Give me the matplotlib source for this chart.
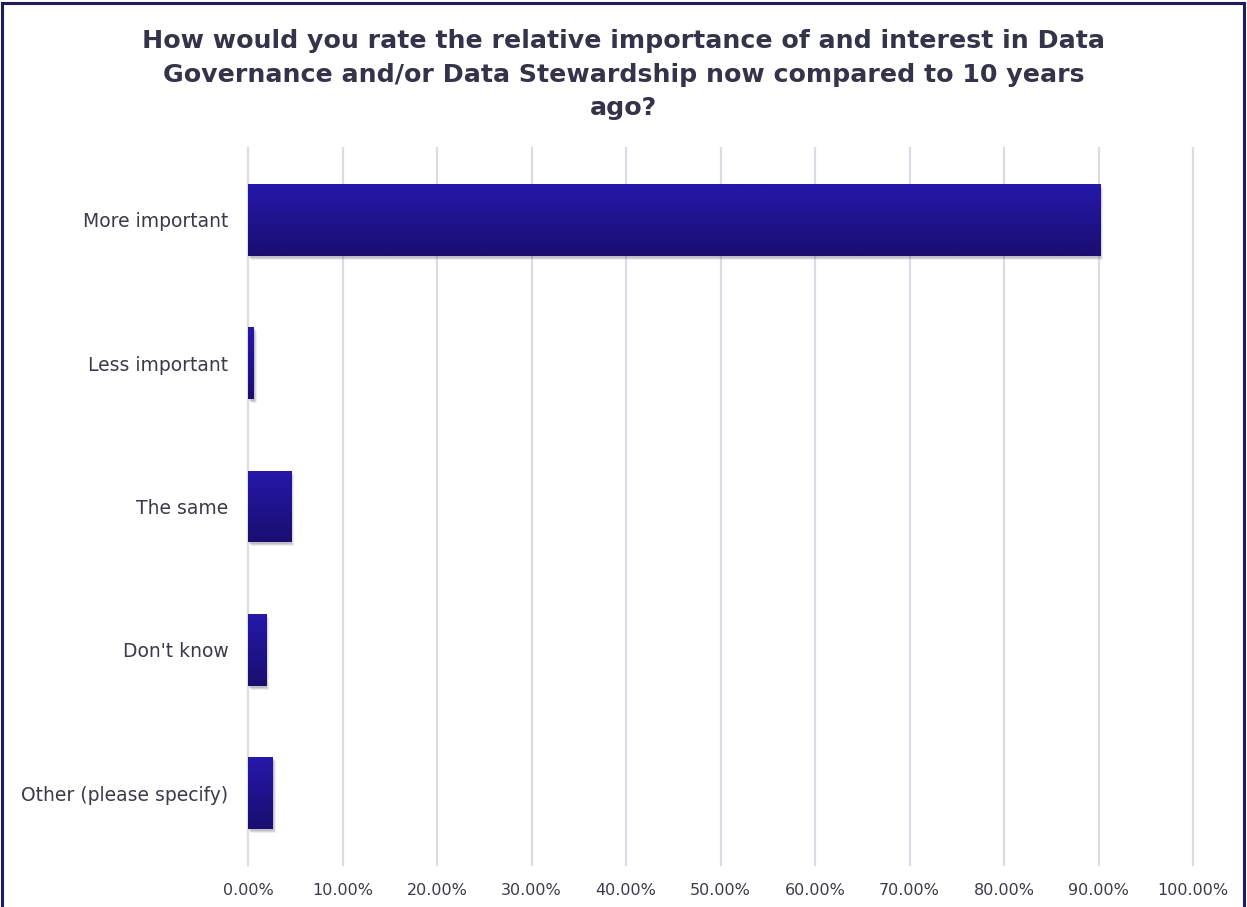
import numpy as np
import matplotlib
matplotlib.use("Agg")
import matplotlib.pyplot as plt
import matplotlib.transforms as mtransforms
from matplotlib.patches import Rectangle
from matplotlib.ticker import FuncFormatter

# survey answers (share of respondents, %)
answers = ["More important", "Less important", "The same", "Don't know",
           "Other (please specify)"]
shares = [90.2, 0.6, 4.6, 1.95, 2.6]
xticks = np.arange(0, 101, 10)

title = ("How would you rate the relative importance of and interest in Data\n"
         "Governance and/or Data Stewardship now compared to 10 years\n"
         "ago?")

text_col = "#3b3a4a"
grid_col = "#dcdce6"

fig = plt.figure(figsize=(12.47, 9.07), dpi=100)
fig.patch.set_facecolor("white")
ax = fig.add_axes([248 / 1247, 42 / 907, 945 / 1247, 717 / 907])

ypos = np.arange(len(answers))
bar_h = 0.5

# soft drop shadow under each bar
for dx, dy, a in [(3, -4, 0.10), (2, -3, 0.14), (1, -2, 0.18)]:
    off = mtransforms.offset_copy(ax.transData, fig=fig, x=dx, y=dy, units="dots")
    ax.barh(ypos, shares, height=bar_h, color="#555566", alpha=a,
            transform=off, zorder=2, linewidth=0)

bars = ax.barh(ypos, shares, height=bar_h, color="#21148f", zorder=3, linewidth=0)

# vertical gradient fill, lighter at the top of each bar
grad = np.linspace(0, 1, 64).reshape(-1, 1)
top = np.array([38, 24, 170]) / 255
bot = np.array([26, 14, 112]) / 255
rgb = top[None, None, :] * (1 - grad[..., None]) + bot[None, None, :] * grad[..., None]
for b, y, v in zip(bars, ypos, shares):
    im = ax.imshow(rgb, extent=[0, v, y + bar_h / 2, y - bar_h / 2],
                   aspect="auto", zorder=4, interpolation="bilinear")
    im.set_clip_path(b)

ax.set_xlim(0, 100)
ax.set_ylim(len(answers) - 0.5, -0.5)
ax.set_xticks(xticks)
ax.xaxis.set_major_formatter(FuncFormatter(lambda v, p: f"{v:.2f}%"))
ax.set_yticks(ypos)
ax.set_yticklabels(answers)
ax.grid(axis="x", color=grid_col, linewidth=1.6, zorder=0)
for gl in ax.get_xgridlines():
    gl.set_clip_on(False)
ax.set_axisbelow(True)
for s in ax.spines.values():
    s.set_visible(False)
ax.tick_params(axis="both", length=0, colors=text_col, labelsize=11.5)
ax.tick_params(axis="y", pad=14, labelsize=13.5)
ax.tick_params(axis="x", pad=13)
ax.set_facecolor("none")

fig.text(0.5, 0.968, title, ha="center", va="top", fontsize=18.2,
         fontweight="bold", color="#33334a", linespacing=1.5)

# outer frame
fig.patches.append(Rectangle((0.0015, -0.02), 0.996, 1.0165, transform=fig.transFigure,
                             fill=False, edgecolor="#1e1b5e", linewidth=2.2))

fig.savefig("out.png", dpi=100)
